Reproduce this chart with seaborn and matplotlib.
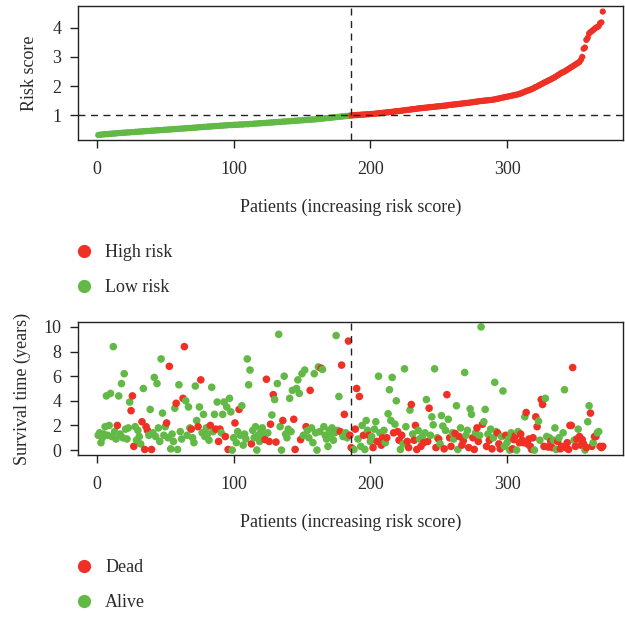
import numpy as np
import pandas as pd
import matplotlib
matplotlib.use("Agg")
import matplotlib.pyplot as plt
from matplotlib.lines import Line2D
import seaborn as sns

# ================================
# DATA
# ================================
# risk score of each patient, sorted increasing (patients 1..370)
risk_score = [
    0.33, 0.34, 0.34, 0.35, 0.35, 0.36, 0.36, 0.36, 0.37, 0.37,
    0.38, 0.38, 0.38, 0.39, 0.39, 0.40, 0.40, 0.40, 0.41, 0.41,
    0.41, 0.42, 0.42, 0.42, 0.43, 0.43, 0.43, 0.44, 0.44, 0.44,
    0.45, 0.45, 0.45, 0.46, 0.46, 0.46, 0.47, 0.47, 0.47, 0.48,
    0.48, 0.48, 0.49, 0.49, 0.49, 0.50, 0.50, 0.50, 0.51, 0.51,
    0.51, 0.52, 0.52, 0.52, 0.53, 0.53, 0.53, 0.54, 0.54, 0.54,
    0.55, 0.55, 0.55, 0.56, 0.56, 0.56, 0.57, 0.57, 0.57, 0.58,
    0.58, 0.58, 0.59, 0.59, 0.60, 0.60, 0.60, 0.61, 0.61, 0.61,
    0.62, 0.62, 0.62, 0.63, 0.63, 0.63, 0.64, 0.64, 0.64, 0.65,
    0.65, 0.65, 0.66, 0.66, 0.66, 0.67, 0.67, 0.67, 0.67, 0.68,
    0.68, 0.68, 0.68, 0.69, 0.69, 0.69, 0.69, 0.70, 0.70, 0.70,
    0.70, 0.71, 0.71, 0.71, 0.72, 0.72, 0.72, 0.73, 0.73, 0.73,
    0.74, 0.74, 0.74, 0.75, 0.75, 0.75, 0.76, 0.76, 0.76, 0.77,
    0.77, 0.77, 0.78, 0.78, 0.78, 0.79, 0.79, 0.79, 0.80, 0.80,
    0.80, 0.81, 0.81, 0.81, 0.82, 0.82, 0.82, 0.83, 0.83, 0.83,
    0.84, 0.84, 0.84, 0.85, 0.85, 0.85, 0.86, 0.86, 0.86, 0.87,
    0.87, 0.88, 0.88, 0.89, 0.89, 0.90, 0.90, 0.91, 0.91, 0.92,
    0.92, 0.93, 0.93, 0.94, 0.94, 0.95, 0.95, 0.96, 0.96, 0.97,
    0.97, 0.98, 0.98, 0.99, 0.99, 1.00, 1.00, 1.01, 1.01, 1.01,
    1.02, 1.02, 1.02, 1.03, 1.03, 1.03, 1.04, 1.04, 1.04, 1.05,
    1.05, 1.05, 1.06, 1.06, 1.07, 1.07, 1.08, 1.08, 1.09, 1.09,
    1.10, 1.10, 1.11, 1.11, 1.12, 1.12, 1.13, 1.14, 1.14, 1.15,
    1.15, 1.16, 1.16, 1.17, 1.18, 1.18, 1.19, 1.19, 1.20, 1.21,
    1.21, 1.22, 1.22, 1.23, 1.24, 1.24, 1.25, 1.25, 1.26, 1.26,
    1.27, 1.27, 1.28, 1.28, 1.29, 1.29, 1.30, 1.30, 1.31, 1.31,
    1.32, 1.32, 1.33, 1.33, 1.34, 1.34, 1.35, 1.36, 1.36, 1.37,
    1.37, 1.38, 1.38, 1.39, 1.39, 1.40, 1.41, 1.41, 1.42, 1.42,
    1.43, 1.43, 1.44, 1.45, 1.45, 1.46, 1.47, 1.47, 1.48, 1.49,
    1.49, 1.50, 1.50, 1.51, 1.51, 1.52, 1.52, 1.53, 1.53, 1.54,
    1.55, 1.56, 1.57, 1.58, 1.59, 1.60, 1.61, 1.62, 1.63, 1.64,
    1.65, 1.66, 1.67, 1.68, 1.69, 1.70, 1.71, 1.72, 1.74, 1.75,
    1.77, 1.79, 1.81, 1.83, 1.85, 1.86, 1.88, 1.90, 1.92, 1.95,
    1.97, 1.99, 2.02, 2.04, 2.07, 2.09, 2.12, 2.14, 2.16, 2.19,
    2.21, 2.23, 2.26, 2.28, 2.31, 2.34, 2.37, 2.40, 2.43, 2.46,
    2.48, 2.50, 2.53, 2.56, 2.59, 2.62, 2.65, 2.68, 2.71, 2.74,
    2.77, 2.80, 2.83, 2.90, 3.00, 3.28, 3.32, 3.58, 3.65, 3.80,
    3.85, 3.88, 3.92, 3.96, 4.00, 4.02, 4.05, 4.15, 4.18, 4.55,
]

# survival time (years) of each patient, same order
survival_time = [
    1.2, 1.4, 0.6, 1.0, 1.3, 1.9, 4.4, 1.2, 2.0, 4.6,
    1.1, 8.4, 1.5, 0.9, 2.0, 4.4, 1.3, 5.4, 1.0, 6.2,
    1.7, 0.9, 1.8, 3.9, 3.2, 4.4, 0.3, 1.9, 0.8, 1.6,
    1.1, 0.5, 2.3, 5.0, 0.05, 1.9, 1.6, 1.2, 3.3, 0.05,
    1.4, 5.9, 1.1, 5.4, 1.8, 0.7, 7.4, 3.0, 1.2, 1.9,
    2.2, 1.0, 6.8, 0.1, 1.3, 0.7, 3.4, 3.8, 0.05, 5.3,
    1.5, 0.9, 4.2, 8.4, 4.0, 1.2, 3.5, 1.8, 1.7, 1.0,
    0.6, 5.2, 2.4, 1.9, 3.5, 5.7, 1.4, 2.9, 1.1, 1.8,
    1.3, 0.8, 2.0, 5.1, 1.5, 2.9, 1.7, 3.9, 0.7, 1.7,
    1.4, 2.9, 3.9, 1.1, 3.5, 0.05, 4.2, 3.1, 0.0, 1.0,
    2.2, 0.6, 1.5, 3.3, 1.2, 3.6, 0.4, 1.3, 0.9, 7.4,
    5.3, 6.5, 0.5, 1.6, 1.0, 1.9, 0.0, 1.2, 0.7, 1.5,
    1.8, 1.1, 0.85, 5.75, 1.4, 0.7, 2.1, 2.85, 4.5, 4.1,
    0.65, 5.4, 9.4, 1.9, 0.0, 2.4, 6.0, 1.3, 1.0, 1.7,
    4.2, 1.5, 4.85, 2.5, 0.05, 5.0, 5.7, 4.6, 0.85, 6.2,
    1.2, 6.5, 1.9, 1.6, 1.0, 4.85, 1.8, 0.6, 6.2, 1.4,
    0.0, 6.75, 1.5, 6.65, 6.55, 1.9, 1.2, 0.9, 0.3, 1.6,
    1.3, 1.8, 0.8, 1.4, 9.3, 1.6, 4.35, 1.5, 6.9, 1.1,
    2.9, 1.4, 1.0, 8.85, 1.2, 0.2, 0.1, 0.05, 1.7, 5.0,
    0.9, 4.35, 0.3, 2.0, 1.2, 0.05, 2.4, 1.6, 1.2, 0.7,
    1.1, 0.2, 1.7, 2.3, 0.7, 6.0, 1.4, 0.4, 1.0, 1.6,
    0.6, 1.0, 2.95, 4.9, 2.4, 5.9, 1.4, 2.1, 4.0, 1.5,
    0.8, 0.05, 1.2, 0.5, 6.6, 1.9, 0.7, 0.2, 3.25, 3.7,
    1.3, 0.8, 2.0, 0.05, 1.6, 0.9, 0.3, 1.1, 0.6, 1.4,
    4.1, 0.7, 3.4, 1.2, 2.7, 2.05, 6.6, 0.2, 1.0, 0.9,
    0.5, 2.8, 1.95, 0.1, 1.6, 4.5, 2.5, 1.0, 0.3, 1.4,
    0.9, 1.35, 3.6, 0.05, 1.1, 1.8, 0.4, 0.75, 6.3, 1.2,
    1.6, 0.2, 3.35, 2.9, 1.0, 0.05, 1.4, 1.8, 0.7, 1.2,
    10.0, 2.1, 2.3, 3.3, 0.3, 1.3, 0.8, 1.7, 0.1, 1.0,
    5.5, 1.5, 1.4, 0.5, 0.1, 1.1, 4.8, 0.3, 1.2, 0.6,
    0.9, 0.0, 1.4, 0.1, 0.85, 1.15, 0.0, 1.5, 0.6, 1.3,
    0.8, 0.6, 2.7, 3.05, 0.5, 0.9, 0.3, 0.05, 1.0, 0.0,
    2.7, 1.9, 2.35, 0.8, 4.1, 3.7, 0.3, 4.2, 1.1, 0.25,
    1.0, 0.7, 0.2, 0.8, 1.8, 0.05, 0.7, 1.0, 0.1, 0.3,
    1.4, 4.9, 0.2, 0.6, 0.05, 2.0, 2.0, 6.7, 0.8, 0.3,
    0.9, 1.7, 1.1, 0.4, 0.85, 0.5, 0.0, 0.2, 2.3, 3.6,
    3.0, 0.3, 0.6, 1.1, 1.1, 1.4, 1.5, 0.3, 0.2, 0.3,
]

# 1 = dead, 0 = alive
status = [
    0, 0, 0, 0, 0, 0, 0, 0, 0, 0,
    0, 0, 0, 0, 1, 0, 0, 0, 0, 0,
    0, 0, 0, 0, 1, 1, 1, 0, 0, 0,
    0, 0, 1, 0, 1, 1, 1, 0, 0, 1,
    0, 0, 0, 0, 0, 0, 0, 0, 0, 0,
    1, 0, 1, 0, 0, 0, 0, 1, 0, 0,
    0, 0, 1, 1, 0, 0, 0, 0, 1, 0,
    0, 0, 0, 1, 0, 1, 0, 0, 0, 0,
    0, 0, 1, 0, 0, 0, 1, 0, 1, 1,
    0, 0, 0, 1, 0, 1, 0, 0, 0, 0,
    1, 0, 0, 1, 0, 0, 0, 0, 0, 0,
    0, 0, 1, 0, 0, 0, 0, 0, 0, 0,
    0, 0, 1, 1, 0, 1, 1, 0, 1, 0,
    1, 0, 0, 0, 0, 1, 0, 0, 0, 0,
    0, 0, 0, 1, 1, 0, 0, 0, 1, 0,
    0, 0, 1, 0, 0, 1, 0, 0, 0, 0,
    0, 0, 0, 1, 0, 0, 0, 0, 0, 0,
    0, 0, 0, 0, 0, 0, 0, 1, 1, 0,
    1, 0, 0, 1, 1, 1, 1, 0, 1, 1,
    0, 1, 0, 0, 1, 0, 0, 0, 1, 0,
    0, 1, 0, 0, 1, 0, 0, 1, 1, 0,
    0, 1, 0, 0, 0, 0, 1, 0, 0, 1,
    1, 0, 1, 0, 0, 0, 1, 1, 0, 1,
    0, 1, 1, 1, 0, 0, 1, 0, 1, 0,
    0, 1, 1, 0, 0, 0, 0, 1, 0, 1,
    0, 0, 0, 1, 0, 1, 0, 1, 1, 0,
    0, 1, 0, 0, 1, 0, 1, 1, 0, 0,
    0, 1, 0, 0, 1, 1, 0, 1, 1, 0,
    0, 1, 0, 0, 1, 0, 1, 0, 1, 0,
    0, 0, 1, 1, 1, 0, 0, 0, 1, 0,
    0, 0, 0, 1, 1, 1, 0, 0, 1, 1,
    1, 1, 0, 1, 1, 1, 1, 1, 1, 0,
    1, 1, 0, 0, 1, 1, 1, 0, 0, 1,
    0, 1, 1, 0, 0, 0, 1, 0, 1, 1,
    0, 0, 1, 1, 1, 1, 1, 1, 0, 1,
    1, 0, 1, 1, 1, 1, 0, 1, 0, 0,
    1, 1, 0, 1, 1, 0, 0, 1, 1, 1,
]

risk_cutoff = 1.0
x_ticks = [0, 100, 200, 300]

RED = "#EE3124"
GREEN = "#62B946"
TXT = "#2b2b2b"
FS = 13

# ================================
# DATAFRAME
# ================================
df = pd.DataFrame({
    "patient": np.arange(1, len(risk_score) + 1),
    "risk": risk_score,
    "time": survival_time,
    "status": status,
})
df["group"] = np.where(df["risk"] >= risk_cutoff, "High risk", "Low risk")
df["state"] = np.where(df["status"] == 1, "Dead", "Alive")
n_low = (df["group"] == "Low risk").sum()
split_x = n_low + 0.5

# ================================
# STYLE
# ================================
sns.set_style("white")
plt.rcParams["font.family"] = ["Liberation Serif", "DejaVu Serif"]
plt.rcParams["font.size"] = FS
plt.rcParams["text.color"] = TXT
plt.rcParams["axes.labelcolor"] = TXT
plt.rcParams["xtick.color"] = TXT
plt.rcParams["ytick.color"] = TXT

fig = plt.figure(figsize=(6.25, 6.2), dpi=100)
W, H = 625, 620


def px_axes(left, top, right, bottom):
    return fig.add_axes([left / W, 1 - bottom / H, (right - left) / W, (bottom - top) / H])


def style_axes(ax):
    for s in ax.spines.values():
        s.set_visible(True)
        s.set_color("#222222")
        s.set_linewidth(1.0)
    ax.tick_params(axis="both", direction="out", length=6, width=1.0,
                   color="#222222", labelsize=FS, pad=6,
                   bottom=True, left=True)
    ax.tick_params(axis="x", pad=9)
    ax.set_xlim(-13.8, 384.8)
    ax.set_xticks(x_ticks)


def dots():
    return [Line2D([], [], marker="o", ls="", color=RED, markersize=8.5),
            Line2D([], [], marker="o", ls="", color=GREEN, markersize=8.5)]


# ================================
# TOP: RISK SCORE CURVE
# ================================
ax1 = px_axes(78, 6, 623, 140)
sns.scatterplot(data=df, x="patient", y="risk", hue="group",
                palette={"High risk": RED, "Low risk": GREEN},
                s=20, linewidth=0, legend=False, ax=ax1)
ax1.axhline(risk_cutoff, color="#222222", linestyle=(0, (5, 4)), linewidth=1.0)
ax1.axvline(split_x, color="#222222", linestyle=(0, (5, 4)), linewidth=1.0)
ax1.set_ylim(0.16, 4.74)
ax1.set_yticks([1, 2, 3, 4])
ax1.set_xlabel("Patients (increasing risk score)", fontsize=FS, labelpad=15)
ax1.set_ylabel("Risk score", fontsize=FS, labelpad=10)
style_axes(ax1)

fig.legend(handles=dots(), labels=["High risk", "Low risk"], loc="upper left",
           bbox_to_anchor=(59 / W, 1 - 237 / H), frameon=False,
           fontsize=FS, handletextpad=0.15, labelspacing=1.0, borderaxespad=0)

# ================================
# BOTTOM: SURVIVAL STATUS
# ================================
ax2 = px_axes(78, 322, 623, 455)
sns.scatterplot(data=df, x="patient", y="time", hue="state",
                palette={"Dead": RED, "Alive": GREEN},
                s=30, linewidth=0, legend=False, ax=ax2)
ax2.axvline(split_x, color="#222222", linestyle=(0, (5, 4)), linewidth=1.0)
ax2.set_ylim(-0.4, 10.4)
ax2.set_yticks([0, 2, 4, 6, 8, 10])
ax2.set_xlabel("Patients (increasing risk score)", fontsize=FS, labelpad=15)
ax2.set_ylabel("Survival time (years)", fontsize=FS, labelpad=9)
style_axes(ax2)

fig.legend(handles=dots(), labels=["Dead", "Alive"], loc="upper left",
           bbox_to_anchor=(59 / W, 1 - 552 / H), frameon=False,
           fontsize=FS, handletextpad=0.15, labelspacing=1.0, borderaxespad=0)

fig.savefig("out.png", dpi=100, facecolor="white")
